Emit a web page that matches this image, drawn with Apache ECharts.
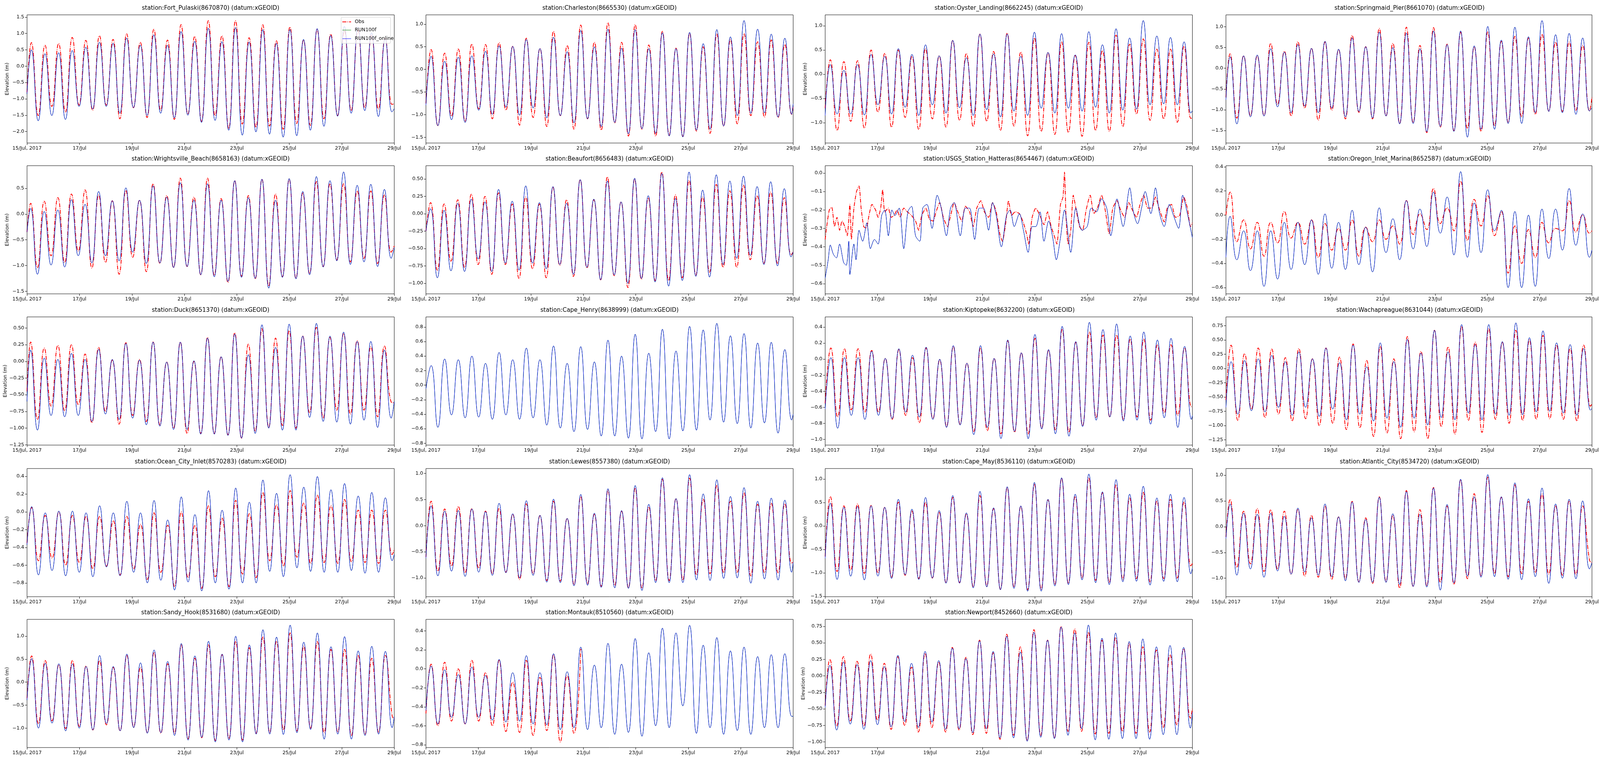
<!DOCTYPE html>
<html>
<head>
<meta charset="utf-8">
<script src="https://cdn.jsdelivr.net/npm/echarts@6/dist/echarts.min.js"></script>
<style>html,body{margin:0;padding:0;background:#fff;overflow:hidden}#chart{width:5150px;height:1950px}</style>
</head>
<body>
<div id="chart"></div>
<script>
// ---------------- data ----------------
const xTickLabels = ['15/Jul, 2017', '17/Jul', '19/Jul', '21/Jul', '23/Jul', '25/Jul', '27/Jul', '29/Jul'];
const seriesNames = ['Obs', 'RUN100f', 'RUN100f_online'];
const stationTitles = [
  'station:Fort_Pulaski(8670870) (datum:xGEOID)',
  'station:Charleston(8665530) (datum:xGEOID)',
  'station:Oyster_Landing(8662245) (datum:xGEOID)',
  'station:Springmaid_Pier(8661070) (datum:xGEOID)',
  'station:Wrightsville_Beach(8658163) (datum:xGEOID)',
  'station:Beaufort(8656483) (datum:xGEOID)',
  'station:USGS_Station_Hatteras(8654467) (datum:xGEOID)',
  'station:Oregon_Inlet_Marina(8652587) (datum:xGEOID)',
  'station:Duck(8651370) (datum:xGEOID)',
  'station:Cape_Henry(8638999) (datum:xGEOID)',
  'station:Kiptopeke(8632200) (datum:xGEOID)',
  'station:Wachapreague(8631044) (datum:xGEOID)',
  'station:Ocean_City_Inlet(8570283) (datum:xGEOID)',
  'station:Lewes(8557380) (datum:xGEOID)',
  'station:Cape_May(8536110) (datum:xGEOID)',
  'station:Atlantic_City(8534720) (datum:xGEOID)',
  'station:Sandy_Hook(8531680) (datum:xGEOID)',
  'station:Montauk(8510560) (datum:xGEOID)',
  'station:Newport(8452660) (datum:xGEOID)'
];
const yMin = [-2.35, -1.624, -1.419, -1.80, -1.551, -1.151, -0.655, -0.652, -1.254, -0.825, -1.070, -1.342, -0.955, -1.359, -1.508, -1.358, -1.422, -0.829, -1.085];
const yMax = [1.57, 1.205, 1.227, 1.287, 0.941, 0.690, 0.040, 0.409, 0.667, 0.939, 0.527, 0.904, 0.489, 1.095, 1.227, 1.127, 1.365, 0.522, 0.855];
const yTicks = [
  [-2.0, -1.5, -1.0, -0.5, 0.0, 0.5, 1.0, 1.5],
  [-1.5, -1.0, -0.5, 0.0, 0.5, 1.0],
  [-1.0, -0.5, 0.0, 0.5, 1.0],
  [-1.5, -1.0, -0.5, 0.0, 0.5, 1.0],
  [-1.5, -1.0, -0.5, 0.0, 0.5],
  [-1.0, -0.75, -0.5, -0.25, 0.0, 0.25, 0.5],
  [-0.6, -0.5, -0.4, -0.3, -0.2, -0.1, 0.0],
  [-0.6, -0.4, -0.2, 0.0, 0.2, 0.4],
  [-1.25, -1.0, -0.75, -0.5, -0.25, 0.0, 0.25, 0.5],
  [-0.8, -0.6, -0.4, -0.2, 0.0, 0.2, 0.4, 0.6, 0.8],
  [-1.0, -0.8, -0.6, -0.4, -0.2, 0.0, 0.2, 0.4],
  [-1.25, -1.0, -0.75, -0.5, -0.25, 0.0, 0.25, 0.5, 0.75],
  [-0.8, -0.6, -0.4, -0.2, 0.0, 0.2, 0.4],
  [-1.0, -0.5, 0.0, 0.5, 1.0],
  [-1.5, -1.0, -0.5, 0.0, 0.5, 1.0],
  [-1.0, -0.5, 0.0, 0.5, 1.0],
  [-1.0, -0.5, 0.0, 0.5, 1.0],
  [-0.8, -0.6, -0.4, -0.2, 0.0, 0.2, 0.4],
  [-1.0, -0.75, -0.5, -0.25, 0.0, 0.25, 0.5, 0.75]
];
const yDecimals = [1, 1, 1, 1, 1, 2, 1, 1, 2, 1, 1, 2, 1, 1, 1, 1, 1, 1, 2];
// hour (from 15 Jul 00:00) of the first high water read for each station
const firstExtremeHour = [4.0, 4.7, 4.7, 3.8, 3.3, 4.2, 0, 3.8, 3.3, 4.7, 5.2, 4.7, 4.2, 4.7, 4.7, 3.8, 4.2, 4.7, 4.3];
const halfTidePeriodHours = 6.225;

// sequences: [value at start, high, low, high, low, ..., value at end]
const fortPulaskiModel = [-0.85, 0.50,-1.67, 0.38,-1.51, 0.41,-1.63, 0.48,-1.23, 0.58,-1.31, 0.73,-1.23, 0.70,-1.44, 0.86,-1.27, 0.64,-1.51, 0.96,-1.44, 0.64,-1.58, 1.06,-1.50, 0.76,-1.72, 1.16,-1.66, 0.75,-1.96, 1.18,-2.11, 0.74,-2.01, 1.12,-2.08, 0.70,-2.17, 1.12,-2.13, 0.82,-1.96, 1.15,-1.84, 0.94,-1.53, 1.22,-1.44, 1.20,-1.36, 1.02,-1.54, 0.84,-1.40, -1.30];
const fortPulaskiObs = [-0.80, 0.72,-1.51, 0.64,-1.23, 0.69,-1.40, 0.88,-1.19, 0.79,-1.35, 0.93,-1.19, 0.82,-1.61, 0.99,-1.27, 0.73,-1.57, 1.13,-1.35, 0.80,-1.63, 1.27,-1.47, 0.91,-1.69, 1.39,-1.51, 0.93,-1.91, 1.39,-1.77, 0.87,-1.87, 1.27,-1.83, 0.78,-1.93, 1.20,-1.75, 0.80,-1.81, 1.12,-1.61, 0.98,-1.51, 1.09,-1.36, 1.10,-1.27, 0.95,-1.31, 0.85,-1.17, -1.15];
const charlestonModel = [-0.79, 0.29,-1.24, 0.18,-1.11, 0.27,-1.17, 0.30,-0.90, 0.40,-0.99, 0.52,-0.83, 0.51,-1.01, 0.66,-0.85, 0.46,-1.07, 0.71,-1.02, 0.39,-1.18, 0.86,-1.09, 0.50,-1.26, 0.89,-1.17, 0.47,-1.42, 0.88,-1.31, 0.46,-1.41, 0.81,-1.47, 0.46,-1.49, 0.82,-1.34, 0.57,-1.32, 0.88,-1.25, 0.72,-1.02, 1.08,-0.97, 0.89,-0.96, 0.78,-1.05, 0.69,-0.99, -0.76];
const charlestonObs = [-0.75, 0.44,-1.24, 0.36,-1.03, 0.45,-1.15, 0.56,-0.87, 0.55,-1.09, 0.59,-0.90, 0.51,-1.23, 0.69,-1.06, 0.46,-1.26, 0.84,-1.02, 0.53,-1.32, 0.98,-1.09, 0.60,-1.34, 1.03,-1.18, 0.60,-1.47, 0.99,-1.32, 0.54,-1.47, 0.84,-1.45, 0.47,-1.48, 0.80,-1.36, 0.50,-1.41, 0.78,-1.25, 0.66,-1.20, 0.79,-1.02, 0.61,-1.05, 0.65,-1.06, 0.55,-0.99, -0.80];
const oysterLandingModel = [-0.85, 0.20,-0.82, 0.08,-0.82, 0.20,-0.84, 0.41,-0.63, 0.37,-0.82, 0.53,-0.68, 0.41,-0.85, 0.61,-0.63, 0.38,-0.80, 0.70,-0.69, 0.34,-0.85, 0.83,-0.73, 0.42,-0.88, 0.83,-0.76, 0.37,-0.85, 0.87,-0.70, 0.45,-0.80, 0.84,-0.70, 0.40,-0.76, 0.88,-0.68, 0.61,-0.80, 0.94,-0.74, 0.75,-0.72, 1.11,-0.63, 0.79,-0.61, 0.76,-0.63, 0.67,-0.80, -0.75];
const oysterLandingObs = [-0.70, 0.30,-1.16, 0.26,-0.97, 0.28,-1.11, 0.50,-0.78, 0.43,-1.09, 0.50,-0.89, 0.37,-1.14, 0.53,-0.92, 0.38,-1.09, 0.70,-0.95, 0.43,-1.08, 0.83,-0.97, 0.47,-1.16, 0.85,-1.07, 0.46,-1.27, 0.75,-1.18, 0.45,-1.24, 0.67,-1.20, 0.39,-1.28, 0.66,-1.16, 0.49,-1.18, 0.81,-1.08, 0.62,-0.82, 0.73,-0.95, 0.52,-0.92, 0.52,-0.99, 0.58,-0.91, -0.90];
const springmaidModel = [-0.76, 0.28,-1.34, 0.30,-1.17, 0.32,-1.15, 0.47,-0.93, 0.39,-1.07, 0.57,-0.91, 0.48,-1.07, 0.65,-0.96, 0.46,-1.17, 0.73,-1.04, 0.52,-1.20, 0.87,-1.15, 0.50,-1.34, 0.85,-1.33, 0.47,-1.53, 0.90,-1.40, 0.57,-1.52, 0.90,-1.66, 0.54,-1.47, 1.01,-1.47, 0.68,-1.33, 0.99,-1.33, 0.76,-1.07, 1.15,-1.04, 0.81,-1.07, 0.84,-1.11, 0.73,-1.03, -0.95];
const springmaidObs = [-0.70, 0.35,-1.20, 0.30,-1.14, 0.30,-1.14, 0.60,-0.87, 0.41,-1.15, 0.64,-0.96, 0.48,-1.25, 0.63,-1.01, 0.45,-1.22, 0.79,-1.06, 0.52,-1.22, 0.96,-1.15, 0.60,-1.33, 0.99,-1.31, 0.55,-1.55, 0.98,-1.42, 0.58,-1.50, 0.87,-1.45, 0.52,-1.52, 0.88,-1.39, 0.65,-1.30, 0.77,-1.17, 0.73,-1.11, 0.82,-1.03, 0.63,-1.04, 0.63,-1.01, 0.55,-1.03, -0.70];
const wrightsvilleModel = [-0.35, 0.11,-1.17, 0.05,-0.99, 0.08,-1.03, 0.28,-0.81, 0.19,-0.95, 0.44,-0.81, 0.26,-0.91, 0.51,-0.74, 0.27,-0.96, 0.55,-0.95, 0.33,-1.04, 0.61,-1.02, 0.27,-1.18, 0.59,-1.22, 0.27,-1.31, 0.65,-1.23, 0.32,-1.25, 0.68,-1.44, 0.27,-1.23, 0.69,-1.26, 0.44,-1.18, 0.73,-1.03, 0.65,-0.91, 0.82,-0.98, 0.56,-0.93, 0.58,-1.02, 0.48,-0.86, -0.65];
const wrightsvilleObs = [-0.35, 0.21,-1.04, 0.25,-0.81, 0.32,-0.94, 0.39,-0.72, 0.47,-1.05, 0.37,-0.94, 0.26,-1.17, 0.46,-0.84, 0.27,-1.12, 0.59,-0.96, 0.36,-1.04, 0.70,-1.02, 0.33,-1.18, 0.70,-1.19, 0.30,-1.33, 0.65,-1.21, 0.36,-1.26, 0.68,-1.40, 0.39,-1.22, 0.68,-1.25, 0.41,-1.16, 0.63,-1.02, 0.59,-0.89, 0.59,-0.93, 0.45,-0.86, 0.45,-0.96, 0.37,-0.74, -0.62];
const beaufortModel = [-0.25, 0.07,-0.92, 0.05,-0.82, 0.15,-0.83, 0.21,-0.65, 0.17,-0.83, 0.35,-0.71, 0.18,-0.81, 0.40,-0.71, 0.16,-0.79, 0.39,-0.73, 0.15,-0.87, 0.49,-0.77, 0.21,-0.95, 0.47,-0.88, 0.17,-1.00, 0.51,-0.93, 0.26,-0.98, 0.58,-1.04, 0.22,-0.96, 0.60,-0.90, 0.34,-0.91, 0.56,-0.73, 0.47,-0.64, 0.54,-0.60, 0.39,-0.73, 0.46,-0.75, 0.36,-0.62, -0.55];
const beaufortObs = [-0.25, 0.16,-0.81, 0.14,-0.68, 0.20,-0.77, 0.28,-0.73, 0.25,-0.87, 0.30,-0.73, 0.14,-0.93, 0.24,-0.79, 0.14,-0.92, 0.38,-0.74, 0.20,-0.90, 0.49,-0.78, 0.20,-0.95, 0.53,-0.89, 0.17,-1.06, 0.50,-0.94, 0.23,-0.96, 0.60,-0.96, 0.27,-0.92, 0.48,-0.88, 0.24,-0.84, 0.42,-0.77, 0.33,-0.77, 0.41,-0.66, 0.26,-0.71, 0.31,-0.71, 0.23,-0.59, -0.55];
// Hatteras: irregular, read as (hour, value) points
const hatterasModelHours = [0,2.8,4.7,7.5,10.3,13.2,16.9,19.3,21.6,22.6,26.3,28.2,31.0,34.3,38.1,41.4,45.1,48.4,51.7,54.5,57.8,61.1,63.9,67.7,71.9,75.7,79.0,82.7,86.5,89.3,93.1,97.8,102.5,106.2,110.9,114.7,118.0,123.6,128.3,132.1,136.8,141.0,144.8,149.5,153.2,156.5,161.2,165.9,169.2,173.0,177.7,181.4,185.7,189.4,192.7,196.5,200.2,204.5,208.2,211.5,215.3,219.0,224.7,229.4,235.0,239.7,243.5,248.2,252.9,257.6,261.3,267.0,272.6,278.7,282.0,285.8,289.5,292.8,298.0,302.2,306.0,310.2,314.9,318.7,323.4,327.1,331.4,336];
const hatterasModelValues = [-0.57,-0.47,-0.39,-0.44,-0.46,-0.385,-0.485,-0.50,-0.37,-0.55,-0.385,-0.47,-0.31,-0.37,-0.27,-0.41,-0.36,-0.385,-0.23,-0.20,-0.34,-0.20,-0.23,-0.19,-0.41,-0.21,-0.18,-0.34,-0.37,-0.19,-0.17,-0.30,-0.12,-0.19,-0.34,-0.19,-0.16,-0.34,-0.19,-0.19,-0.36,-0.19,-0.19,-0.31,-0.16,-0.23,-0.40,-0.23,-0.20,-0.29,-0.22,-0.31,-0.43,-0.29,-0.29,-0.21,-0.37,-0.26,-0.35,-0.47,-0.35,-0.20,-0.43,-0.19,-0.31,-0.29,-0.19,-0.21,-0.14,-0.19,-0.34,-0.14,-0.29,-0.08,-0.21,-0.275,-0.19,-0.10,-0.22,-0.08,-0.22,-0.29,-0.17,-0.23,-0.30,-0.12,-0.22,-0.35];
const hatterasObsHours = [0,1.4,3.8,6.1,8.5,10.8,13.2,15.5,17.9,20.2,22.6,24.0,26.3,28.7,31.0,32.9,35.3,37.6,40.4,42.8,46.1,48.4,50.8,52.6,54.5,57.8,60.2,63.0,65.8,68.6,71.9,75.2,79.0,82.7,85.5,88.4,92.1,95.4,98.7,101.5,104.8,108.1,111.9,115.2,118.0,121.3,125.0,128.3,132.1,135.4,138.7,142.4,145.7,149.5,153.2,156.5,159.8,162.2,165.0,167.8,170.6,173.9,177.7,181.4,184.7,186.1,189.4,192.7,196.5,200.2,203.5,206.8,209.6,212.0,215.3,217.6,219.0,220.4,222.3,224.7,227.0,229.4,232.7,235.5,238.8,242.5,245.8,249.1,252.9,256.2,259.9,263.2,267.0,270.3,274.0,277.8,281.1,284.8,288.1,291.4,295.2,298.9,302.2,306.0,310.2,313.0,316.8,320.5,324.3,328.1,331.4,334.2,336];
const hatterasObsValues = [-0.36,-0.29,-0.20,-0.185,-0.29,-0.24,-0.31,-0.26,-0.29,-0.34,-0.17,-0.36,-0.19,-0.10,-0.07,-0.19,-0.29,-0.30,-0.22,-0.17,-0.20,-0.24,-0.19,-0.09,-0.21,-0.19,-0.24,-0.23,-0.20,-0.24,-0.19,-0.21,-0.23,-0.26,-0.31,-0.23,-0.19,-0.25,-0.26,-0.21,-0.16,-0.24,-0.29,-0.22,-0.16,-0.21,-0.26,-0.18,-0.21,-0.29,-0.19,-0.15,-0.21,-0.24,-0.16,-0.21,-0.33,-0.37,-0.28,-0.15,-0.23,-0.21,-0.22,-0.27,-0.34,-0.385,-0.24,-0.19,-0.23,-0.28,-0.21,-0.29,-0.34,-0.385,-0.17,-0.13,0.005,-0.24,-0.385,-0.31,-0.12,-0.19,-0.29,-0.31,-0.20,-0.12,-0.22,-0.19,-0.12,-0.20,-0.33,-0.19,-0.15,-0.20,-0.24,-0.16,-0.20,-0.24,-0.17,-0.12,-0.19,-0.19,-0.13,-0.20,-0.265,-0.19,-0.17,-0.24,-0.23,-0.13,-0.19,-0.29,-0.27];
const oregonInletModel = [-0.35, -0.01,-0.37, -0.13,-0.46, -0.13,-0.59, -0.13,-0.53, -0.06,-0.45, -0.06,-0.41, -0.04,-0.49, 0.01,-0.44, -0.06,-0.45, 0.04,-0.41, -0.10,-0.47, 0.06,-0.31, -0.03,-0.37, 0.12,-0.28, 0.05,-0.26, 0.19,-0.15, 0.15,-0.33, 0.36,-0.35, 0.10,-0.31, 0.21,-0.13, 0.04,-0.60, 0.03,-0.60, 0.00,-0.59, 0.05,-0.36, 0.05,-0.29, 0.22,-0.25, 0.01,-0.35, -0.29];
const oregonInletObs = [0.00, 0.19,-0.22, -0.04,-0.28, -0.06,-0.34, -0.06,-0.23, 0.03,-0.19, -0.06,-0.24, -0.04,-0.35, -0.07,-0.29, -0.11,-0.29, -0.04,-0.34, -0.10,-0.22, -0.04,-0.20, -0.09,-0.24, 0.12,-0.16, 0.01,-0.12, 0.22,-0.07, 0.06,-0.13, 0.28,-0.21, 0.13,-0.09, 0.16,-0.17, 0.03,-0.48, -0.09,-0.40, -0.12,-0.35, -0.06,-0.23, -0.11,-0.13, 0.12,-0.14, 0.00,-0.15, -0.13];
const duckModel = [-0.60, 0.17,-1.03, 0.05,-0.81, 0.03,-0.83, 0.12,-0.81, 0.03,-0.90, 0.18,-0.79, 0.03,-0.87, 0.27,-0.85, 0.02,-0.95, 0.29,-0.97, -0.01,-1.02, 0.29,-1.02, 0.01,-1.09, 0.35,-1.09, 0.07,-1.11, 0.41,-1.15, 0.10,-1.08, 0.55,-1.00, 0.21,-1.03, 0.56,-1.03, 0.38,-0.84, 0.57,-0.90, 0.38,-0.91, 0.44,-0.94, 0.30,-0.88, 0.30,-0.99, 0.17,-0.85, -0.60];
const duckObs = [-0.45, 0.29,-0.87, 0.20,-0.67, 0.24,-0.74, 0.25,-0.65, 0.11,-0.92, 0.21,-0.75, 0.02,-0.94, 0.28,-0.81, 0.03,-0.90, 0.29,-0.95, -0.01,-1.00, 0.29,-1.08, 0.00,-1.08, 0.36,-1.08, 0.07,-1.10, 0.43,-1.15, 0.26,-1.05, 0.49,-0.99, 0.35,-0.96, 0.46,-1.00, 0.38,-0.77, 0.51,-0.85, 0.36,-0.73, 0.42,-0.79, 0.31,-0.73, 0.22,-0.83, 0.23,-0.61, -0.62];
const capeHenryModel = [-0.05, 0.27,-0.58, 0.36,-0.41, 0.35,-0.45, 0.40,-0.44, 0.30,-0.47, 0.45,-0.41, 0.35,-0.47, 0.51,-0.45, 0.35,-0.55, 0.54,-0.59, 0.30,-0.64, 0.53,-0.61, 0.32,-0.70, 0.62,-0.70, 0.40,-0.73, 0.70,-0.74, 0.44,-0.64, 0.77,-0.74, 0.47,-0.63, 0.81,-0.62, 0.76,-0.48, 0.85,-0.51, 0.68,-0.53, 0.71,-0.59, 0.58,-0.52, 0.59,-0.66, 0.49,-0.48, -0.40];
const kiptopekeModel = [-0.62, 0.02,-0.86, 0.02,-0.70, 0.02,-0.75, 0.10,-0.70, 0.01,-0.74, 0.13,-0.66, 0.05,-0.72, 0.15,-0.75, 0.00,-0.85, 0.17,-0.82, -0.05,-0.94, 0.17,-0.85, 0.01,-0.99, 0.24,-0.90, 0.08,-0.99, 0.31,-0.87, 0.12,-0.93, 0.41,-0.96, 0.22,-0.84, 0.46,-0.76, 0.37,-0.72, 0.44,-0.77, 0.29,-0.76, 0.34,-0.81, 0.24,-0.73, 0.26,-0.85, 0.16,-0.75, -0.70];
const kiptopekeObs = [-0.55, 0.14,-0.72, 0.13,-0.63, 0.13,-0.66, 0.11,-0.66, 0.01,-0.75, 0.12,-0.70, 0.02,-0.79, 0.14,-0.74, -0.01,-0.84, 0.16,-0.81, -0.05,-0.90, 0.14,-0.89, 0.01,-0.93, 0.23,-0.91, 0.08,-0.93, 0.26,-0.86, 0.11,-0.88, 0.37,-0.91, 0.21,-0.83, 0.34,-0.73, 0.30,-0.72, 0.30,-0.75, 0.25,-0.72, 0.25,-0.76, 0.18,-0.67, 0.18,-0.70, 0.14,-0.59, -0.58];
const wachapreagueModel = [-0.68, 0.12,-0.80, 0.14,-0.74, 0.17,-0.76, 0.23,-0.68, 0.12,-0.82, 0.29,-0.68, 0.17,-0.84, 0.36,-0.71, 0.10,-0.90, 0.41,-0.80, 0.03,-0.92, 0.45,-0.87, 0.12,-1.03, 0.51,-0.87, 0.27,-0.99, 0.67,-0.86, 0.29,-0.90, 0.77,-0.78, 0.42,-0.90, 0.77,-0.80, 0.47,-0.82, 0.80,-0.81, 0.54,-0.76, 0.66,-0.75, 0.45,-0.78, 0.42,-0.82, 0.35,-0.73, -0.70];
const wachapreagueObs = [-0.55, 0.41,-0.91, 0.26,-0.71, 0.36,-0.86, 0.34,-0.80, 0.19,-0.92, 0.35,-0.88, 0.17,-1.00, 0.36,-0.96, 0.20,-1.07, 0.43,-1.04, 0.14,-1.19, 0.39,-1.13, 0.17,-1.23, 0.56,-1.11, 0.30,-1.23, 0.67,-1.02, 0.38,-1.15, 0.74,-0.91, 0.46,-1.12, 0.70,-0.89, 0.46,-0.96, 0.67,-0.91, 0.50,-0.89, 0.58,-0.88, 0.41,-0.89, 0.35,-0.92, 0.41,-0.66, -0.62];
const oceanCityModel = [-0.37, 0.06,-0.71, -0.01,-0.66, 0.01,-0.72, 0.01,-0.68, -0.01,-0.73, 0.07,-0.62, -0.01,-0.72, 0.12,-0.68, -0.01,-0.80, 0.13,-0.77, -0.09,-0.88, 0.17,-0.79, -0.03,-0.89, 0.24,-0.80, 0.02,-0.87, 0.27,-0.80, 0.11,-0.80, 0.36,-0.67, 0.21,-0.73, 0.42,-0.63, 0.28,-0.67, 0.40,-0.68, 0.25,-0.68, 0.32,-0.66, 0.18,-0.69, 0.22,-0.68, 0.16,-0.55, -0.48];
const oceanCityObs = [-0.35, 0.05,-0.55, -0.04,-0.52, 0.00,-0.60, -0.04,-0.57, -0.05,-0.64, -0.05,-0.61, -0.10,-0.71, -0.05,-0.64, -0.14,-0.76, -0.01,-0.68, -0.15,-0.84, 0.00,-0.74, -0.15,-0.86, 0.07,-0.73, -0.07,-0.84, 0.13,-0.70, -0.02,-0.74, 0.22,-0.55, 0.08,-0.61, 0.24,-0.51, 0.10,-0.58, 0.19,-0.57, 0.07,-0.58, 0.14,-0.56, 0.02,-0.57, 0.02,-0.58, 0.02,-0.48, -0.42];
const lewesModel = [-0.62, 0.38,-0.96, 0.28,-0.87, 0.29,-0.97, 0.32,-0.89, 0.27,-0.95, 0.43,-0.90, 0.23,-1.00, 0.48,-0.95, 0.20,-1.08, 0.51,-1.09, 0.14,-1.15, 0.60,-1.14, 0.24,-1.18, 0.71,-1.19, 0.29,-1.20, 0.77,-1.24, 0.41,-1.09, 0.92,-1.09, 0.52,-1.09, 0.98,-1.04, 0.61,-1.05, 0.88,-1.01, 0.56,-1.00, 0.73,-1.10, 0.47,-1.02, 0.53,-1.04, 0.49,-0.89, -0.70];
const lewesObs = [-0.60, 0.47,-0.87, 0.32,-0.77, 0.37,-0.90, 0.33,-0.81, 0.28,-0.92, 0.33,-0.89, 0.22,-1.03, 0.42,-0.92, 0.19,-1.05, 0.47,-1.06, 0.14,-1.13, 0.56,-1.11, 0.22,-1.16, 0.68,-1.14, 0.28,-1.19, 0.72,-1.20, 0.36,-1.05, 0.89,-1.05, 0.52,-1.04, 0.91,-0.94, 0.51,-0.92, 0.77,-0.90, 0.47,-0.89, 0.63,-0.96, 0.41,-0.90, 0.43,-0.90, 0.42,-0.72, -0.70];
const capeMayModel = [-0.69, 0.49,-1.14, 0.40,-1.07, 0.42,-1.15, 0.43,-1.07, 0.40,-1.12, 0.57,-1.04, 0.36,-1.14, 0.61,-1.11, 0.33,-1.22, 0.65,-1.22, 0.28,-1.32, 0.74,-1.30, 0.39,-1.36, 0.84,-1.33, 0.43,-1.39, 0.93,-1.39, 0.57,-1.28, 1.03,-1.25, 0.68,-1.15, 1.11,-1.21, 0.73,-1.25, 0.99,-1.19, 0.68,-1.18, 0.85,-1.26, 0.60,-1.18, 0.68,-1.19, 0.61,-1.02, -0.90];
const capeMayObs = [-0.65, 0.63,-0.97, 0.43,-0.94, 0.47,-1.01, 0.44,-1.00, 0.40,-1.09, 0.51,-1.05, 0.32,-1.12, 0.51,-1.11, 0.29,-1.21, 0.61,-1.21, 0.26,-1.29, 0.65,-1.28, 0.37,-1.35, 0.82,-1.30, 0.42,-1.36, 0.89,-1.35, 0.56,-1.25, 1.02,-1.22, 0.63,-1.11, 1.03,-1.16, 0.71,-1.21, 0.88,-1.14, 0.60,-1.12, 0.72,-1.19, 0.54,-1.12, 0.57,-1.11, 0.51,-0.85, -0.80];
const atlanticCityModel = [-0.23, 0.44,-0.94, 0.26,-0.82, 0.24,-0.98, 0.26,-0.86, 0.20,-0.92, 0.36,-0.88, 0.17,-0.94, 0.44,-0.97, 0.19,-1.05, 0.48,-1.08, 0.14,-1.08, 0.57,-1.08, 0.25,-1.12, 0.68,-1.16, 0.24,-1.17, 0.75,-1.23, 0.43,-1.09, 0.92,-0.96, 0.58,-0.98, 1.01,-0.97, 0.58,-1.02, 0.85,-1.03, 0.54,-0.97, 0.75,-1.10, 0.44,-1.00, 0.53,-1.01, 0.50,-0.82, -0.70];
const atlanticCityObs = [-0.20, 0.53,-0.79, 0.30,-0.72, 0.35,-0.87, 0.33,-0.82, 0.30,-0.92, 0.34,-0.96, 0.22,-0.98, 0.40,-1.02, 0.19,-1.01, 0.49,-1.07, 0.17,-1.10, 0.58,-1.06, 0.22,-1.19, 0.70,-1.16, 0.33,-1.15, 0.76,-1.08, 0.40,-1.12, 0.91,-1.01, 0.64,-0.96, 0.96,-0.91, 0.57,-0.97, 0.81,-0.91, 0.49,-0.89, 0.63,-0.92, 0.40,-0.94, 0.50,-0.93, 0.40,-0.65, -0.70];
const sandyHookModel = [-0.39, 0.51,-1.00, 0.41,-0.89, 0.40,-1.06, 0.40,-1.00, 0.34,-1.04, 0.58,-0.90, 0.34,-1.06, 0.61,-0.99, 0.42,-1.11, 0.70,-1.10, 0.45,-1.16, 0.84,-1.26, 0.57,-1.20, 0.89,-1.30, 0.61,-1.26, 1.00,-1.30, 0.81,-1.13, 1.14,-1.13, 0.98,-1.14, 1.24,-1.10, 0.87,-1.03, 1.07,-1.24, 0.77,-1.13, 0.99,-1.24, 0.68,-1.16, 0.78,-1.13, 0.67,-0.99, -0.75];
const sandyHookObs = [-0.35, 0.57,-0.90, 0.47,-0.84, 0.38,-1.01, 0.47,-0.96, 0.35,-1.04, 0.47,-0.93, 0.32,-1.06, 0.58,-0.97, 0.32,-1.10, 0.65,-1.11, 0.40,-1.11, 0.81,-1.23, 0.52,-1.21, 0.81,-1.27, 0.60,-1.23, 0.89,-1.26, 0.75,-1.11, 0.98,-1.10, 0.89,-1.04, 1.07,-1.06, 0.78,-1.00, 0.88,-1.10, 0.71,-1.09, 0.71,-1.16, 0.58,-1.14, 0.52,-1.09, 0.58,-0.74, -0.80];
const montaukModel = [-0.44, 0.03,-0.58, -0.01,-0.51, -0.06,-0.58, 0.02,-0.51, -0.07,-0.54, 0.10,-0.56, -0.04,-0.55, 0.14,-0.58, -0.04,-0.59, 0.16,-0.64, -0.03,-0.62, 0.23,-0.64, 0.04,-0.62, 0.27,-0.69, 0.05,-0.67, 0.32,-0.71, 0.17,-0.60, 0.43,-0.62, 0.38,-0.39, 0.46,-0.68, 0.25,-0.62, 0.33,-0.69, 0.19,-0.65, 0.23,-0.69, 0.13,-0.62, 0.15,-0.62, 0.16,-0.50, -0.50];
// observations at Montauk stop on 21 Jul
const montaukObs = [-0.47, 0.05,-0.60, 0.07,-0.55, 0.00,-0.58, 0.09,-0.55, -0.04,-0.60, 0.09,-0.66, -0.14,-0.67, 0.09,-0.70, -0.09,-0.65, 0.15,-0.77, -0.07,-0.68, 0.21];
const newportModel = [-0.48, 0.16,-0.82, 0.21,-0.73, 0.17,-0.81, 0.23,-0.74, 0.14,-0.77, 0.31,-0.69, 0.19,-0.78, 0.37,-0.70, 0.23,-0.81, 0.42,-0.80, 0.26,-0.86, 0.53,-0.80, 0.37,-0.94, 0.60,-0.94, 0.36,-0.99, 0.66,-0.93, 0.54,-0.95, 0.74,-0.90, 0.65,-0.80, 0.77,-0.97, 0.57,-0.96, 0.65,-0.95, 0.52,-0.95, 0.56,-0.96, 0.44,-0.89, 0.46,-0.89, 0.43,-0.79, -0.55];
const newportObs = [-0.45, 0.25,-0.76, 0.29,-0.68, 0.22,-0.76, 0.33,-0.67, 0.19,-0.81, 0.29,-0.75, 0.13,-0.85, 0.34,-0.78, 0.21,-0.85, 0.43,-0.82, 0.28,-0.89, 0.54,-0.87, 0.35,-0.96, 0.63,-0.90, 0.44,-0.98, 0.70,-0.90, 0.54,-0.94, 0.75,-0.84, 0.71,-0.84, 0.66,-0.88, 0.54,-0.87, 0.58,-0.84, 0.49,-0.87, 0.44,-0.85, 0.39,-0.78, 0.32,-0.74, 0.41,-0.64, -0.50];

const modelByPanel = [fortPulaskiModel, charlestonModel, oysterLandingModel, springmaidModel, wrightsvilleModel, beaufortModel, null, oregonInletModel, duckModel, capeHenryModel, kiptopekeModel, wachapreagueModel, oceanCityModel, lewesModel, capeMayModel, atlanticCityModel, sandyHookModel, montaukModel, newportModel];
const obsByPanel = [fortPulaskiObs, charlestonObs, oysterLandingObs, springmaidObs, wrightsvilleObs, beaufortObs, null, oregonInletObs, duckObs, null, kiptopekeObs, wachapreagueObs, oceanCityObs, lewesObs, capeMayObs, atlanticCityObs, sandyHookObs, montaukObs, newportObs];

// ---------------- layout (designed for 5150 x 1950, scaled to the real viewport) ----------------
const W = window.innerWidth || 5150, H = window.innerHeight || 1950;
const sx = W / 5150, sy = H / 1950;
const fk = (sx + sy) / 2;
const el = document.getElementById('chart');
el.style.width = W + 'px'; el.style.height = H + 'px';

const colLeft = [87, 1371, 2656, 3946];
const rowTop = [38, 424, 811, 1199, 1585];
const plotW = 1182, plotH = 328;
const FONT = 'DejaVu Sans';
const TICK_FS = 13.9 * fk;
const TITLE_FS = 16.7 * fk;

function tidePairs(values, t0) {
  const full = values.length >= 56;
  return values.map((v, i) => {
    let h;
    if (i === 0) h = 0;
    else if (full && i === values.length - 1) h = 336;
    else h = t0 + (i - 1) * halfTidePeriodHours;
    return [h, v];
  });
}
function zipPairs(hours, values) { return hours.map((h, i) => [h, values[i]]); }
function fmtTick(v, d) { return v.toFixed(d).replace('-', '\u2212'); }

const dashDot = [13 * sx, 3.3 * sx, 2 * sx, 3.3 * sx];
const grids = [], xAxes = [], yAxes = [], series = [], titles = [];
stationTitles.forEach((title, i) => {
  const col = i % 4, row = Math.floor(i / 4);
  const left = colLeft[col] * sx, top = rowTop[row] * sy;
  const pw = plotW * sx, ph = plotH * sy;
  grids.push({ left, top, width: pw, height: ph, show: true, borderColor: '#000', borderWidth: 1, backgroundColor: 'transparent', containLabel: false });
  xAxes.push({
    type: 'value', gridIndex: i, min: 0, max: 336, interval: 48,
    axisLine: { show: false, onZero: false },
    axisTick: { show: true, length: 5, lineStyle: { color: '#000', width: 1 } },
    axisLabel: { color: '#000', fontSize: TICK_FS, fontFamily: FONT, margin: 9 * fk, showMinLabel: true, showMaxLabel: true,
      formatter: v => xTickLabels[Math.round(v / 48)] || '' },
    splitLine: { show: false }
  });
  const dec = yDecimals[i];
  yAxes.push({
    type: 'value', gridIndex: i, min: yMin[i], max: yMax[i],
    name: (col === 0 || col === 2) ? 'Elevation (m)' : '',
    nameLocation: 'middle', nameGap: 50 * fk,
    nameTextStyle: { color: '#000', fontSize: TICK_FS, fontFamily: FONT },
    axisLine: { show: false, onZero: false },
    axisTick: { show: true, length: 5, lineStyle: { color: '#000', width: 1 }, customValues: yTicks[i] },
    axisLabel: { color: '#000', fontSize: TICK_FS, fontFamily: FONT, margin: 8 * fk, customValues: yTicks[i],
      formatter: v => fmtTick(v, dec) },
    splitLine: { show: false }
  });
  titles.push({
    text: title, left: left + pw / 2, top: top - 15 * sy - TITLE_FS * 0.6, textAlign: 'center', padding: 0,
    textStyle: { fontSize: TITLE_FS, fontWeight: 'normal', color: '#000', fontFamily: FONT }
  });

  let obsData = null, modelData = null;
  if (i === 6) {
    obsData = zipPairs(hatterasObsHours, hatterasObsValues);
    modelData = zipPairs(hatterasModelHours, hatterasModelValues);
  } else {
    if (obsByPanel[i]) obsData = tidePairs(obsByPanel[i], firstExtremeHour[i]);
    modelData = tidePairs(modelByPanel[i], firstExtremeHour[i]);
  }
  const common = { type: 'line', xAxisIndex: i, yAxisIndex: i, symbol: 'none', showSymbol: false, animation: false, silent: true };
  if (obsData) {
    series.push(Object.assign({}, common, {
      name: seriesNames[0], data: obsData, smooth: i === 6 ? 0.2 : true, z: 2,
      itemStyle: { color: '#ff0000' },
      lineStyle: { color: '#ff0000', width: 2, type: dashDot }
    }));
  }
  series.push(Object.assign({}, common, {
    name: seriesNames[1], data: modelData, smooth: i === 6 ? 0.3 : true, z: 3,
    itemStyle: { color: '#008000' }, lineStyle: { color: '#008000', width: 1 }
  }));
  series.push(Object.assign({}, common, {
    name: seriesNames[2], data: modelData, smooth: i === 6 ? 0.3 : true, z: 4,
    itemStyle: { color: '#0000ff' }, lineStyle: { color: '#0000ff', width: 1 }
  }));
});

// legend box drawn in the first panel (matplotlib style)
const legendColors = ['#ff0000', '#008000', '#0000ff'];
const legendWidths = [2, 1, 1];
const legendRowsY = [56, 77, 99];
const legendElements = [{
  type: 'rect', z: 100, silent: true,
  shape: { x: 1098 * sx, y: 44 * sy, width: 159 * sx, height: 67 * sy, r: 3 },
  style: { fill: 'rgba(255,255,255,0.8)', stroke: '#cccccc', lineWidth: 1 }
}];
seriesNames.forEach((nm, k) => {
  legendElements.push({
    type: 'line', z: 101, silent: true,
    shape: { x1: 1102 * sx, y1: legendRowsY[k] * sy, x2: 1130 * sx, y2: legendRowsY[k] * sy },
    style: { stroke: legendColors[k], lineWidth: legendWidths[k], lineDash: k === 0 ? dashDot : null }
  });
  legendElements.push({
    type: 'text', z: 101, silent: true, x: 1142 * sx, y: legendRowsY[k] * sy,
    style: { text: nm, fill: '#000', fontSize: TICK_FS, fontFamily: FONT, verticalAlign: 'middle', align: 'left' }
  });
});

const chart = echarts.init(el, null, { renderer: 'canvas', width: W, height: H });
chart.setOption({
  backgroundColor: '#ffffff',
  animation: false,
  textStyle: { fontFamily: FONT },
  title: titles,
  grid: grids,
  xAxis: xAxes,
  yAxis: yAxes,
  graphic: legendElements,
  series: series
});
</script>
</body>
</html>
